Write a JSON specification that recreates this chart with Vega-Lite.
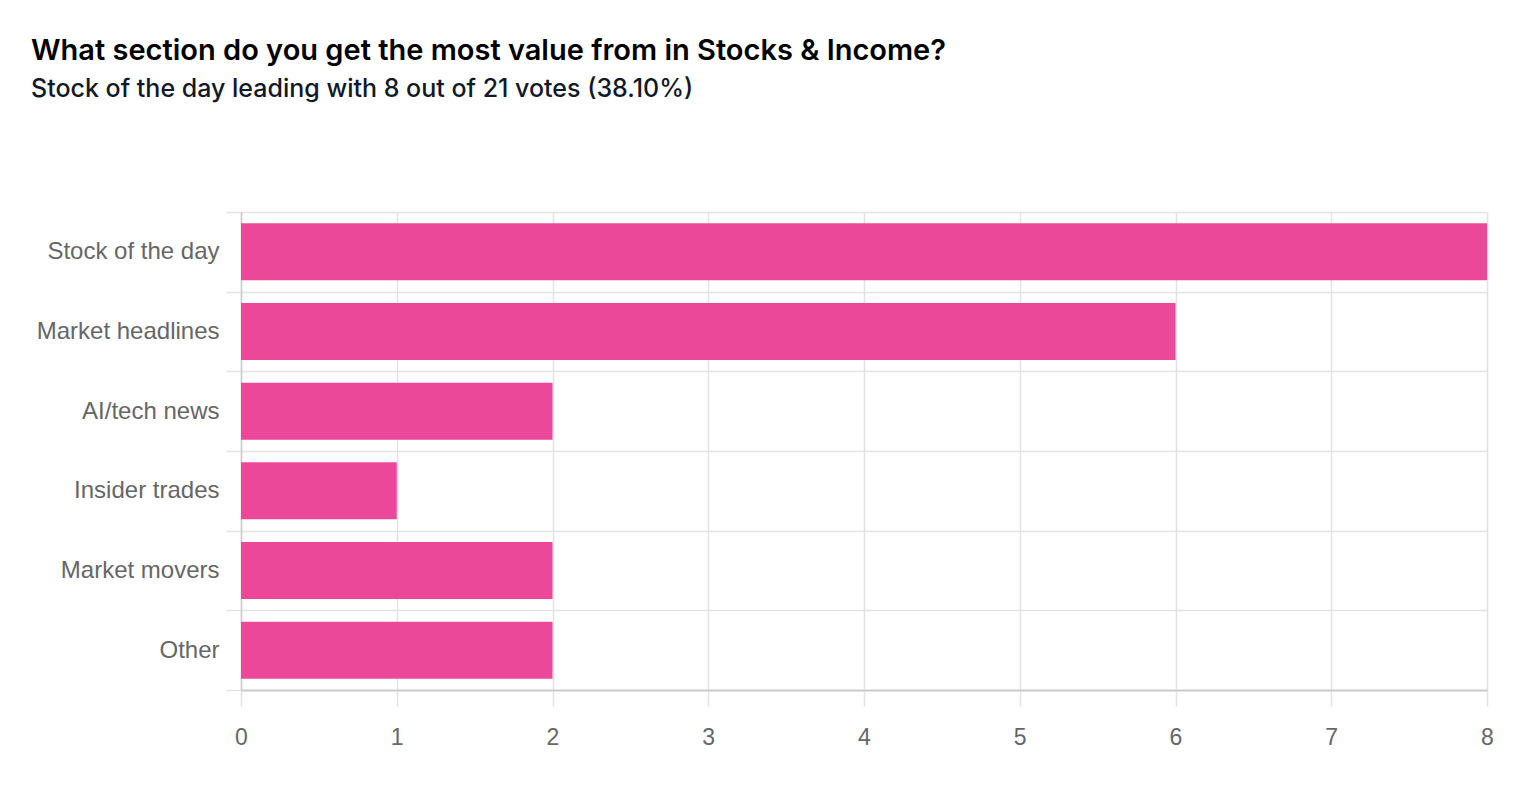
{
  "$schema": "https://vega.github.io/schema/vega-lite/v6.json",
  "autosize": {"type": "none"},
  "padding": {"left": 241, "top": 212, "right": 43, "bottom": 104},
  "width": 1246,
  "height": 478,
  "background": "white",
  "title": {
    "text": "What section do you get the most value from in Stocks & Income?",
    "subtitle": "Stock of the day leading with 8 out of 21 votes (38.10%)",
    "anchor": "start",
    "frame": "group",
    "dx": -210,
    "offset": 98,
    "font": "Inter",
    "fontSize": 29,
    "fontWeight": 600,
    "color": "#000000",
    "subtitleFont": "Inter",
    "subtitleFontSize": 25,
    "subtitleFontWeight": 500,
    "subtitleColor": "#111827",
    "subtitlePadding": 11
  },
  "data": {
    "values": [
      {"section": "Stock of the day", "votes": 8},
      {"section": "Market headlines", "votes": 6},
      {"section": "AI/tech news", "votes": 2},
      {"section": "Insider trades", "votes": 1},
      {"section": "Market movers", "votes": 2},
      {"section": "Other", "votes": 2}
    ]
  },
  "mark": {"type": "bar", "color": "#EC4899", "height": {"band": 0.715}},
  "encoding": {
    "y": {
      "field": "section",
      "type": "nominal",
      "sort": null,
      "scale": {"paddingInner": 0, "paddingOuter": 0},
      "axis": {
        "title": null,
        "tickBand": "extent",
        "grid": true,
        "gridColor": "#e3e3e3",
        "gridWidth": 1.5,
        "ticks": true,
        "tickSize": 15,
        "tickColor": "#e3e3e3",
        "tickWidth": 1.5,
        "domain": true,
        "domainColor": "#cccccc",
        "domainWidth": 1.5,
        "labelFont": "Liberation Sans",
        "labelFontSize": 24,
        "labelColor": "#666666",
        "labelPadding": 7,
        "labelLimit": 300
      }
    },
    "x": {
      "field": "votes",
      "type": "quantitative",
      "scale": {"domain": [0, 8], "nice": false},
      "axis": {
        "title": null,
        "values": [0, 1, 2, 3, 4, 5, 6, 7, 8],
        "grid": true,
        "gridColor": "#e3e3e3",
        "gridWidth": 1.5,
        "ticks": true,
        "tickSize": 16,
        "tickColor": "#e3e3e3",
        "tickWidth": 1.5,
        "domain": true,
        "domainColor": "#cccccc",
        "domainWidth": 2,
        "labelFont": "Liberation Sans",
        "labelFontSize": 23,
        "labelColor": "#666666",
        "labelPadding": 20,
        "labelFlush": false
      }
    }
  },
  "config": {"view": {"stroke": null}}
}
